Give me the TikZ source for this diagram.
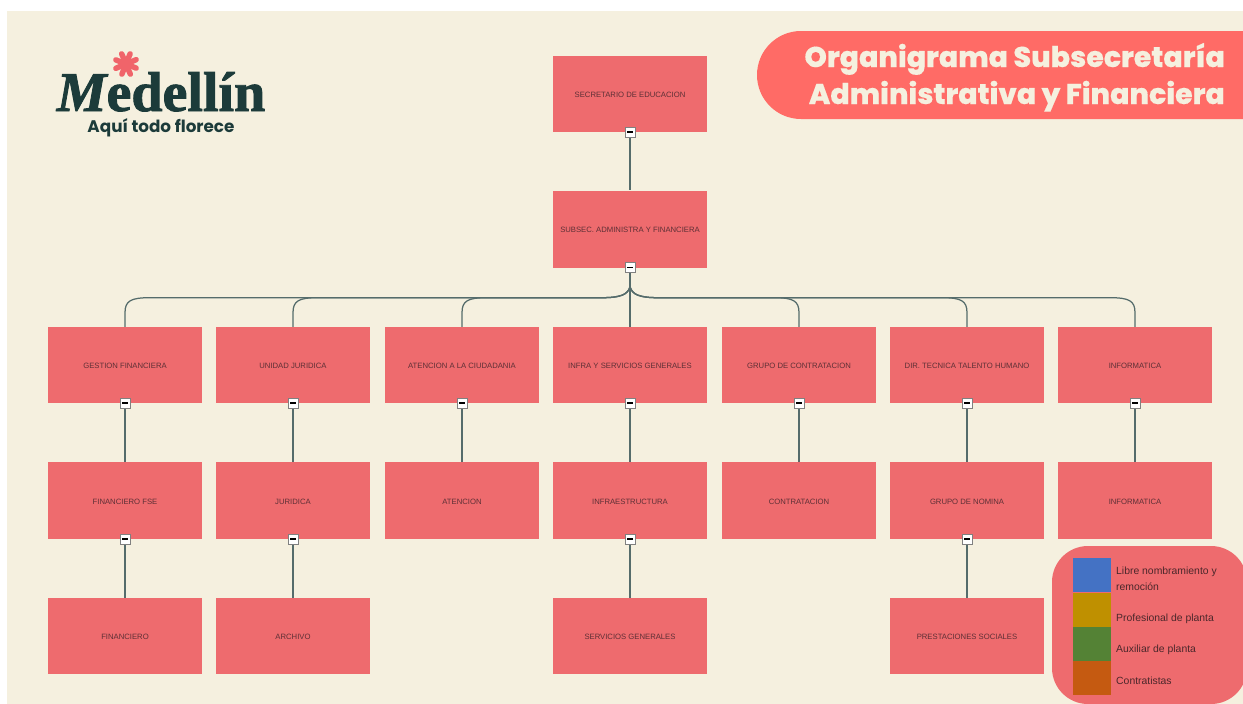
\documentclass[tikz,border=0pt]{standalone}
\usepackage{fontspec}
\setmainfont{Liberation Sans}
\newfontfamily\titlefont[BoldFont={Poppins ExtraBold},BoldFeatures={FakeBold=0.3}]{Poppins}
\newfontfamily\tagfont{Poppins}
\newfontfamily\logofont[FakeBold=1.6]{Liberation Serif}
\usetikzlibrary{calc}
\definecolor{cream}{HTML}{F5F0DF}
\definecolor{boxred}{HTML}{EE6B6E}
\definecolor{pillred}{HTML}{FF6B66}
\definecolor{ink}{HTML}{1C3B3A}
\definecolor{boxtext}{HTML}{5E3036}
\definecolor{flower}{HTML}{F0646A}
\tikzset{
  orgbox/.style={fill=boxred,draw=none,minimum width=154pt,minimum height=76pt,inner sep=0pt,
    text=boxtext,font=\fontsize{7.7}{10}\selectfont,anchor=center,text height=7pt,text depth=0pt},
  btn/.style={fill=white,draw=black!50,line width=0.8pt,minimum size=10pt,inner sep=0pt,font=\tiny},
  conn/.style={draw=ink!75,line width=1.25pt},
  swatch/.style={minimum width=38pt,minimum height=34pt,inner sep=0pt,draw=none},
  legtext/.style={anchor=west,text=boxtext!80!black,font=\fontsize{10.4}{16}\selectfont,align=left,inner sep=0pt},
  petal/.style={line width=5.5pt,line cap=round,draw=flower},
  titletext/.style={text=cream,inner sep=0pt,anchor=base east,font=\titlefont\fontsize{28.5}{30}\selectfont\bfseries}
}
\newcommand{\minusmark}{\rule[0.6pt]{6pt}{1.6pt}}
\begin{document}
\begin{tikzpicture}[x=1pt,y=-1pt]
\useasboundingbox (0,0) rectangle (1243,704);
\fill[white] (0,0) rectangle (1243,704);
\fill[cream] (7,11) rectangle (1243,704);

% Logo
\coordinate (fl) at (126,64);
\foreach \a in {0,45,...,315} \draw[petal] (fl) -- ($(fl)+(\a+22:11)$);
\node[text=ink,inner sep=0pt,anchor=base] (logo) at (161,111)
  {\logofont\fontsize{56}{56}\selectfont\bfseries{\itshape M}edellín};
\node[text=ink,inner sep=0pt,anchor=center] (tag) at (161,128)
  {\tagfont\fontsize{16.8}{17}\selectfont\bfseries Aquí todo florece};

% Title pill
\fill[pillred] (1243,31) -- (801,31) arc[start angle=90,end angle=270,radius=44pt] -- (1243,119) -- cycle;
\node[titletext] (title1) at (1225,67) {Organigrama Subsecretaría};
\node[titletext] (title2) at (1225,104) {Administrativa y Financiera};

% Boxes
\node[orgbox] (sec) at (630,94) {SECRETARIO DE EDUCACION};
\node[orgbox,minimum height=77pt] (sub) at (630,229) {SUBSEC. ADMINISTRA Y FINANCIERA};

\node[orgbox] (a1) at (125,365) {GESTION FINANCIERA};
\node[orgbox] (a2) at (293,365) {UNIDAD JURIDICA};
\node[orgbox] (a3) at (462,365) {ATENCION A LA CIUDADANIA};
\node[orgbox] (a4) at (630,365) {INFRA Y SERVICIOS GENERALES};
\node[orgbox] (a5) at (799,365) {GRUPO DE CONTRATACION};
\node[orgbox] (a6) at (967,365) {DIR. TECNICA TALENTO HUMANO};
\node[orgbox] (a7) at (1135,365) {INFORMATICA};

\node[orgbox,minimum height=77pt] (b1) at (125,500.5) {FINANCIERO FSE};
\node[orgbox,minimum height=77pt] (b2) at (293,500.5) {JURIDICA};
\node[orgbox,minimum height=77pt] (b3) at (462,500.5) {ATENCION};
\node[orgbox,minimum height=77pt] (b4) at (630,500.5) {INFRAESTRUCTURA};
\node[orgbox,minimum height=77pt] (b5) at (799,500.5) {CONTRATACION};
\node[orgbox,minimum height=77pt] (b6) at (967,500.5) {GRUPO DE NOMINA};
\node[orgbox,minimum height=77pt] (b7) at (1135,500.5) {INFORMATICA};

\node[orgbox] (c1) at (125,636) {FINANCIERO};
\node[orgbox] (c2) at (293,636) {ARCHIVO};
\node[orgbox] (c4) at (630,636) {SERVICIOS GENERALES};
\node[orgbox] (c6) at (967,636) {PRESTACIONES SOCIALES};

% Collapse button positions
\foreach \n in {sec,sub,a1,a2,a3,a4,a5,a6,a7,b1,b2,b4,b6}
  \coordinate (pos\n) at (\n.south);

% Connectors
\draw[conn] (possec) -- (sub);
\draw[conn] (possub) -- (a4);
\coordinate (hub) at ($(possub)+(0,19)$);
\coordinate (bus) at ($(hub)+(0,11)$);
\foreach \n/\dr in {a1/1,a2/1,a3/1,a5/-1,a6/-1,a7/-1}{
  \coordinate (busb) at (\n.north |- bus);
  \draw[conn] (hub) .. controls ($(hub)+(-\dr*2,8)$) and ($(bus)+(-\dr*10,0)$) .. ($(bus)+(-\dr*28,0)$)
     -- ($(busb)+(\dr*25,0)$) .. controls ($(busb)+(\dr*6,0)$) and ($(busb)+(0,3)$) .. ($(busb)+(0,15)$)
     -- (\n.north);
}
\foreach \q/\c in {a1/b1,a2/b2,a3/b3,a4/b4,a5/b5,a6/b6,a7/b7,b1/c1,b2/c2,b4/c4,b6/c6}
  \draw[conn] (pos\q) -- (\c);
\foreach \n in {sec,sub,a1,a2,a3,a4,a5,a6,a7,b1,b2,b4,b6}
  \node[btn] (btn\n) at (pos\n) {\minusmark};

% Legend
\fill[boxred,rounded corners=36pt] (1052,546) rectangle (1247,704);
\node[swatch,fill={rgb,255:red,68;green,114;blue,196}] (s1) at (1092,575) {};
\node[swatch,fill={rgb,255:red,191;green,144;blue,0}] (s2) at (1092,610) {};
\node[swatch,fill={rgb,255:red,84;green,130;blue,53}] (s3) at (1092,644) {};
\node[swatch,fill={rgb,255:red,197;green,90;blue,17}] (s4) at (1092,678) {};
\node[legtext] (l1) at (1116,579) {Libre nombramiento y\\remoción};
\node[legtext] (l2) at (1116,619) {Profesional de planta};
\node[legtext] (l3) at (1116,650) {Auxiliar de planta};
\node[legtext] (l4) at (1116,681) {Contratistas};
\end{tikzpicture}
\end{document}
